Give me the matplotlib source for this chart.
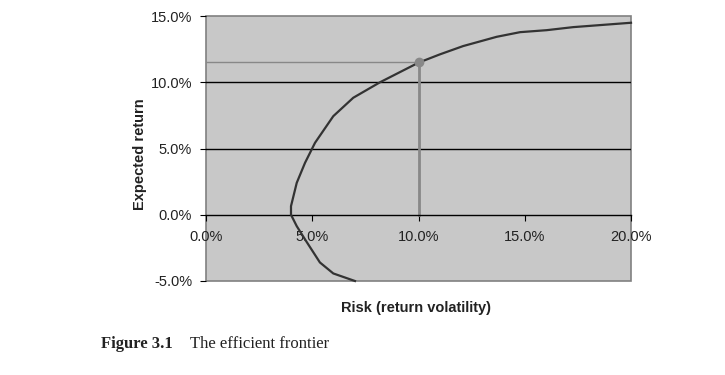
import matplotlib
matplotlib.use("Agg")
import matplotlib.pyplot as plt
from matplotlib.patches import Rectangle
from matplotlib.ticker import FuncFormatter

# Efficient frontier (risk %, expected return %)
risk = [7.01, 5.99, 5.36, 4.66, 4.27, 4.00, 4.00, 4.27, 4.66, 5.13, 5.99, 6.93,
        8.19, 9.99, 11.0, 12.1, 13.68, 14.78, 16.03, 17.28, 20.0]
ret = [-5.0, -4.43, -3.6, -1.86, -0.86, 0.0, 0.65, 2.41, 3.92, 5.43, 7.44, 8.83,
       10.0, 11.47, 12.1, 12.73, 13.43, 13.78, 13.93, 14.16, 14.49]

# Highlighted portfolio
point_risk = 10.0
point_ret = 11.5

x_ticks = [0, 5, 10, 15, 20]
y_ticks = [-5, 0, 5, 10, 15]

plt.rcParams['font.family'] = ['Liberation Sans', 'DejaVu Sans']

fig = plt.figure(figsize=(7.25, 3.75), dpi=100)
ax = fig.add_axes([206/725, 1-281/375, 425/725, 265/375])
ax.set_facecolor('#c8c8c8')
ax.set_xlim(0, 20)
ax.set_ylim(-5, 15)

for s in ['top', 'right', 'left']:
    ax.spines[s].set_visible(False)
ax.spines['bottom'].set_position(('data', 0))
ax.spines['bottom'].set_color('black')
ax.spines['bottom'].set_linewidth(1.0)
ax.add_patch(Rectangle((0, 0), 1, 1, transform=ax.transAxes, fill=False,
                       edgecolor='#808080', linewidth=1.2, zorder=1, clip_on=False))

for yv in [5, 10]:
    ax.axhline(yv, color='black', linewidth=1.0, zorder=1)

ax.set_xticks(x_ticks)
ax.set_yticks(y_ticks)
fmt = FuncFormatter(lambda v, p: f"{v:.1f}%")
ax.xaxis.set_major_formatter(fmt)
ax.yaxis.set_major_formatter(fmt)
ax.tick_params(axis='x', direction='out', length=4, pad=7, labelsize=10.5,
               color='black', labelcolor='#222222')
ax.tick_params(axis='y', direction='out', length=4, pad=6, labelsize=10.5,
               color='black', labelcolor='#222222')

ax.plot([0, point_risk], [point_ret, point_ret], color='#888888', linewidth=1.0, zorder=2)
ax.plot([point_risk, point_risk], [0, point_ret], color='#888888', linewidth=2.0, zorder=2)
ax.plot(risk, ret, color='#333333', linewidth=1.6, zorder=3, clip_on=False)
ax.plot([point_risk], [point_ret], 'o', color='#888888', markersize=6, zorder=4)

ax.set_xlabel('Risk (return volatility)', fontsize=10.5, fontweight='bold', color='#222222')
ax.set_ylabel('Expected return', fontsize=10.5, fontweight='bold', color='#222222')
ax.xaxis.set_label_coords(0.494, -0.075)
ax.yaxis.set_label_coords(-0.139, 0.48)

fig.text(101/725, 1-348/375, 'Figure 3.1', family=['Liberation Serif', 'DejaVu Serif'],
         fontsize=12, fontweight='bold', color='#222222', va='baseline')
fig.text(190/725, 1-348/375, 'The efficient frontier', family=['Liberation Serif', 'DejaVu Serif'],
         fontsize=12, color='#222222', va='baseline')

fig.savefig('out.png', dpi=100)
